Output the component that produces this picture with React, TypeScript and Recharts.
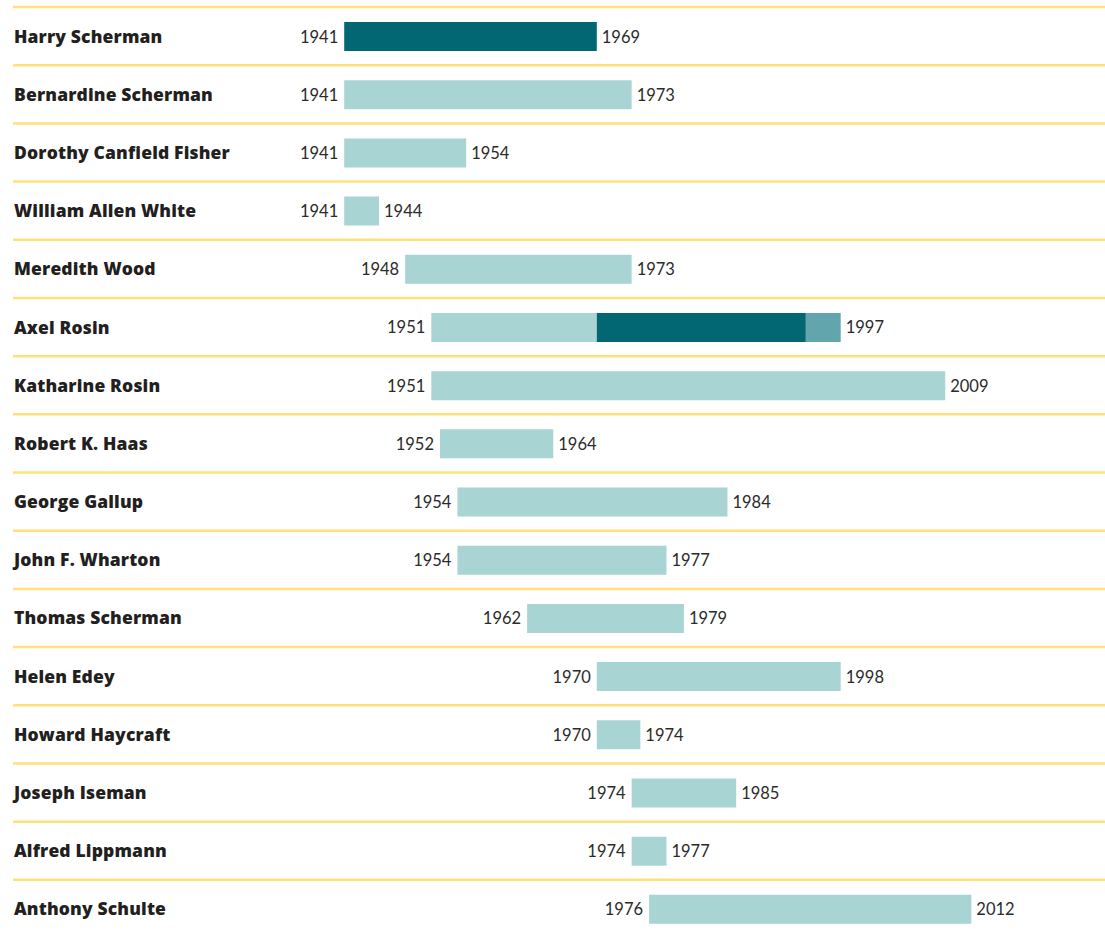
import React from 'react';
import { BarChart, Bar, XAxis, YAxis, LabelList } from 'recharts';

const names = [
  'Harry Scherman',
  'Bernardine Scherman',
  'Dorothy Canfield Fisher',
  'William Allen White',
  'Meredith Wood',
  'Axel Rosin',
  'Katharine Rosin',
  'Robert K. Haas',
  'George Gallup',
  'John F. Wharton',
  'Thomas Scherman',
  'Helen Edey',
  'Howard Haycraft',
  'Joseph Iseman',
  'Alfred Lippmann',
  'Anthony Schulte',
];
const startYears = [1941, 1941, 1941, 1941, 1948, 1951, 1951, 1952, 1954, 1954, 1962, 1970, 1970, 1974, 1974, 1976];
const endYears = [1969, 1973, 1954, 1944, 1973, 1997, 2009, 1964, 1984, 1977, 1979, 1998, 1974, 1985, 1977, 2012];
// where each bar ends on the time axis
const barEndYears = [1970, 1974, 1955, 1945, 1974, 1998, 2010, 1965, 1985, 1978, 1980, 1998, 1975, 1986, 1978, 2013];
// highlighted (dark) period, null when none
const darkStartYears: (number | null)[] = [1941, null, null, null, null, 1970, null, null, null, null, null, null, null, null, null, null];
const darkEndYears: (number | null)[] = [1970, null, null, null, null, 1994, null, null, null, null, null, null, null, null, null, null];

const AXIS_MIN = 1921;
const AXIS_MAX = 2028;

const WIDTH = 1105;
const HEIGHT = 941;
const MARGIN = { top: 7, right: 3, bottom: 3, left: 0 };
const PLOT_H = HEIGHT - MARGIN.top - MARGIN.bottom;

const YELLOW = '#fde17c';
const LIGHT = '#a8d4d3';
const DARK = '#036673';
const MEDIUM = '#63a5ac';
const NAME_COLOR = '#231f20';
const YEAR_COLOR = '#2b2b2b';
const NAME_FONT = '"Open Sans", Lato, sans-serif';
const YEAR_FONT = 'Lato, "Open Sans", sans-serif';

const data = names.map((name, i) => {
  const start = startYears[i];
  const end = barEndYears[i];
  const ds = darkStartYears[i] ?? end;
  const de = darkEndYears[i] ?? end;
  return {
    name,
    base: start - AXIS_MIN,
    light: ds - start,
    dark: de - ds,
    medium: end - de,
  };
});

const NameTick = (props: any) => {
  const { y, payload } = props;
  const step = PLOT_H / names.length;
  const ly = y - step / 2;
  return (
    <g>
      <line x1={13} x2={WIDTH} y1={ly} y2={ly} stroke={YELLOW} strokeWidth={2.5} />
      <text
        x={14}
        y={y - 0.5}
        dominantBaseline="central"
        textAnchor="start"
        fontFamily={NAME_FONT}
        fontWeight={800}
        fontSize={17.5}
        letterSpacing={0.15}
        fill={NAME_COLOR}
      >
        {payload.value}
      </text>
    </g>
  );
};

// base bar spans from axis start to the bar start; its pixel width per year
// gives the axis scale to place the end label
const YearLabels = (props: any) => {
  const { x, y, width, height, value } = props;
  const i = names.indexOf(value);
  if (i < 0) return null;
  const pxPerYear = width / (startYears[i] - AXIS_MIN);
  const endX = x + (barEndYears[i] - AXIS_MIN) * pxPerYear;
  const cy = y + height / 2;
  return (
    <g fontFamily={YEAR_FONT} fontSize={16.5} fill={YEAR_COLOR}>
      <text x={x + width - 6} y={cy} dominantBaseline="central" textAnchor="end">
        {startYears[i]}
      </text>
      <text x={endX + 5} y={cy} dominantBaseline="central" textAnchor="start">
        {endYears[i]}
      </text>
    </g>
  );
};

export default function App() {
  return (
    <div style={{ position: 'absolute', left: 0, top: 0, width: WIDTH, height: 935, overflow: 'hidden', background: '#fff' }}>
      <BarChart width={WIDTH} height={HEIGHT} data={data} layout="vertical" margin={MARGIN} barCategoryGap={0}>
        <XAxis type="number" domain={[0, AXIS_MAX - AXIS_MIN]} allowDataOverflow hide />
        <YAxis
          type="category"
          dataKey="name"
          width={170}
          axisLine={false}
          tickLine={false}
          interval={0}
          tick={<NameTick />}
        />
        <Bar dataKey="base" stackId="a" fill="transparent" barSize={29} isAnimationActive={false}>
          <LabelList dataKey="name" content={<YearLabels />} />
        </Bar>
        <Bar dataKey="light" stackId="a" fill={LIGHT} barSize={29} isAnimationActive={false} />
        <Bar dataKey="dark" stackId="a" fill={DARK} barSize={29} isAnimationActive={false} />
        <Bar dataKey="medium" stackId="a" fill={MEDIUM} barSize={29} isAnimationActive={false} />
      </BarChart>
    </div>
  );
}
